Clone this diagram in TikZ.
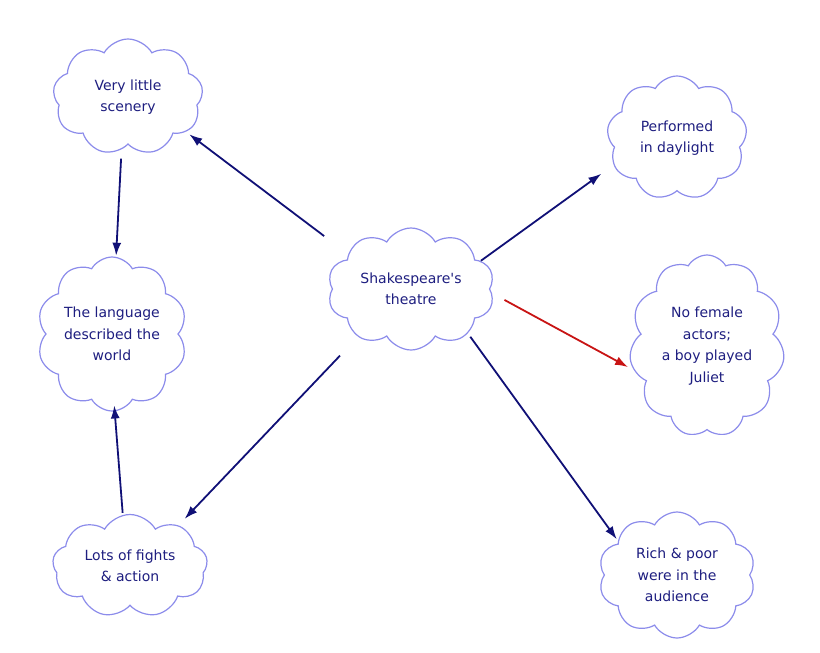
\documentclass[tikz,border=0pt]{standalone}
\usepackage{fontspec}
\setmainfont{DejaVu Sans}
\usepackage{tikz}
\usetikzlibrary{arrows.meta,shapes.symbols,positioning}
\definecolor{navytext}{RGB}{30,30,128}
\definecolor{navyline}{RGB}{16,16,118}
\definecolor{puffline}{RGB}{140,140,235}
\definecolor{redline}{RGB}{200,20,20}
\tikzset{
puff/.style={cloud,cloud puffs=9,cloud puff arc=120,cloud ignores aspect,draw=puffline,line width=1.2pt,fill=white,
  text=navytext,align=center,font=\fontsize{14}{21.5}\selectfont,inner sep=0pt},
link/.style={-{Latex[length=13pt,width=9pt]},line width=1.8pt,navyline,shorten <=4pt,shorten >=4pt}
}

\begin{document}
\begin{tikzpicture}[x=1pt,y=-1pt]
\useasboundingbox (0,0) rectangle (820,653);
\node[puff,minimum width=150,minimum height=116] (S) at (128,97) {Very little\\scenery};
\node[puff,minimum width=150,minimum height=154,cloud puffs=10] (L) at (112,334) {The language\\described the\\world};
\node[puff,minimum width=155,minimum height=103] (F) at (130,566) {Lots of fights\\\& action};
\node[puff,minimum width=167,minimum height=122,cloud puffs=10] (T) at (411,289) {Shakespeare\textquotesingle s\\theatre};
\node[puff,minimum width=140,minimum height=124] (D) at (677,138) {Performed\\in daylight};
\node[puff,minimum width=155,minimum height=182,cloud puffs=11] (N) at (707,346) {No female\\actors;\\a boy played\\Juliet};
\node[puff,minimum width=157,minimum height=126,cloud puffs=10] (R) at (677,575) {Rich \& poor\\were in the\\audience};
\path[link]
(T.151) edge[shorten <=30pt] (S.-31)
(S.263) edge[shorten <=9pt,shorten >=1pt] (L.87)
(F.98) edge[shorten <=2pt,shorten >=-6pt] (L.272)
(T.222) edge[shorten <=26pt,shorten >=9pt] (F.40)
(T.22) edge[shorten <=0pt,shorten >=15pt] (D.203)
(T.-3) edge[redline,shorten <=14pt,shorten >=6pt] (N.198)
(T.-38) edge[shorten >=2pt] (R.150);
\end{tikzpicture}
\end{document}
